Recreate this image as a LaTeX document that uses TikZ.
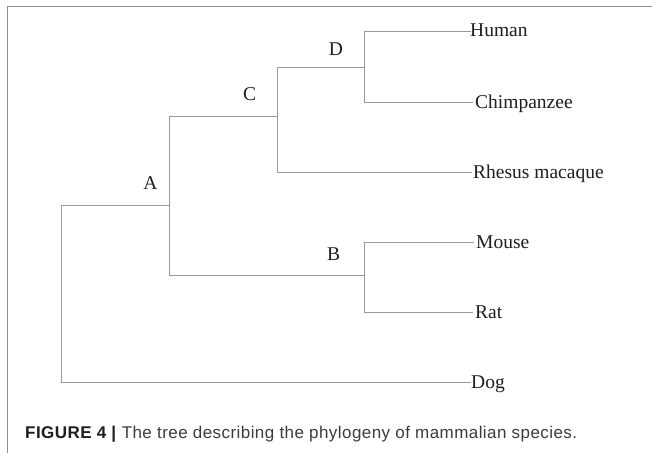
\documentclass[tikz,border=0pt]{standalone}
\usepackage{fontspec}
\setmainfont{Liberation Serif}
\newfontfamily\capfont[LetterSpace=2.6]{Liberation Sans}
\definecolor{framegray}{HTML}{8C8C8C}
\definecolor{branchgray}{HTML}{9A9A9A}
\definecolor{inkdark}{HTML}{1E1E1E}
\definecolor{capgray}{HTML}{3C3C3C}
\begin{document}
\begin{tikzpicture}[x=1pt,y=-1pt,
  branch/.style={draw=branchgray,line width=0.9pt},
  taxon/.style={anchor=base west,inner sep=0pt,text=inkdark,font=\fontsize{19.5}{22}\selectfont},
  clade/.style={anchor=base,inner sep=0pt,text=inkdark,font=\fontsize{19.5}{22}\selectfont},
]
\useasboundingbox (0,0) rectangle (652,453);
\fill[white] (0,0) rectangle (652,453);
% open frame: top and left edges only
\draw[framegray,line width=1.4pt] (652,6.5) -- (7.7,6.5) -- (7.7,453);

% internal nodes of the tree
\coordinate (nR) at (61.7,293);
\coordinate (nA) at (169.2,205);
\coordinate (nC) at (277.5,116.3);
\coordinate (nD) at (364.6,67.7);
\coordinate (nB) at (364.6,275.7);

% tips of the leaf branches
\coordinate (tHum) at (471,31.7);
\coordinate (tChi) at (473,102.3);
\coordinate (tRhe) at (472,172.3);
\coordinate (tMou) at (474,242.7);
\coordinate (tRat) at (473,312.7);
\coordinate (tDog) at (471,382.3);

% branches
\draw[branch] (nR) |- (nA);
\draw[branch] (nR) |- (tDog);
\draw[branch] (nA) |- (nC);
\draw[branch] (nA) |- (nB);
\draw[branch] (nC) |- (nD);
\draw[branch] (nC) |- (tRhe);
\draw[branch] (nD) |- (tHum);
\draw[branch] (nD) |- (tChi);
\draw[branch] (nB) |- (tMou);
\draw[branch] (nB) |- (tRat);

% taxon names
\node[taxon] (human) at (470,36.2) {Human};
\node[taxon] (chimp) at (475,108.2) {Chimpanzee};
\node[taxon] (rhesus) at (473,178.3) {Rhesus macaque};
\node[taxon] (mouse) at (476,248.4) {Mouse};
\node[taxon] (rat) at (475,318.4) {Rat};
\node[taxon] (dog) at (471,388.3) {Dog};

% clade labels
\node[clade] (labD) at (336,55) {D};
\node[clade] (labC) at (249.5,100) {C};
\node[clade] (labA) at (150.5,189) {A};
\node[clade] (labB) at (333.5,260) {B};

% caption
\node[anchor=base west,inner sep=0pt,font=\capfont\fontsize{17}{20}\selectfont,text=capgray] (caption) at (25,438.3)
  {\textcolor{inkdark}{\textbf{FIGURE 4 |}} The tree describing the phylogeny of mammalian species.};
\end{tikzpicture}
\end{document}
